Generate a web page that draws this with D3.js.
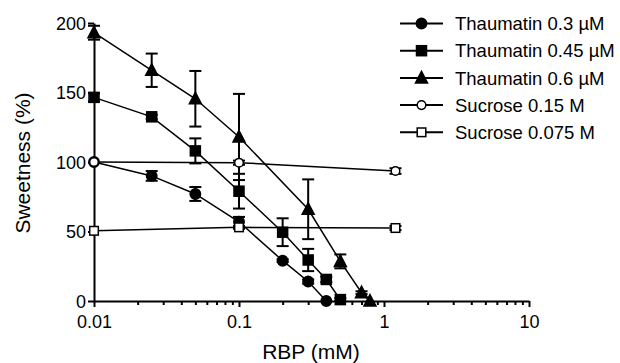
<!DOCTYPE html>
<html>
<head>
<meta charset="utf-8">
<script src="https://cdn.jsdelivr.net/npm/d3@7"></script>
<style>
  body { margin: 0; background: #fff; }
  svg { display: block; font-family: "Liberation Sans", Arial, sans-serif; }
</style>
</head>
<body>
<svg id="chart" width="620" height="363"></svg>
<script>
// values
const seriesNames = ["Thaumatin 0.3 \u00b5M", "Thaumatin 0.45 \u00b5M", "Thaumatin 0.6 \u00b5M", "Sucrose 0.15 M", "Sucrose 0.075 M"];
const seriesShapes = ["circle", "square", "triangle", "circle", "square"];
const seriesFilled = [true, true, true, false, false];

const rbpT03 = [0.01, 0.025, 0.05, 0.1, 0.2, 0.3, 0.4];
const sweetT03 = [100, 90, 77, 57, 29, 14, 0];
const errT03 = [0, 3.5, 5, 3.5, 1, 1.5, 0];

const rbpT045 = [0.01, 0.025, 0.05, 0.1, 0.2, 0.3, 0.4, 0.5];
const sweetT045 = [146.5, 132.5, 108, 79, 49.5, 29.5, 15.5, 1];
const errT045 = [3, 1.5, 9, 12.5, 10, 8, 2, 1];

const rbpT06 = [0.01, 0.025, 0.05, 0.1, 0.3, 0.5, 0.7, 0.8];
const sweetT06 = [193, 166, 145.5, 118, 66, 28.5, 6, 0];
const errT06 = [5, 12, 20, 31, 21.5, 5, 1, 0];

const rbpS015 = [0.01, 0.1, 1.2];
const sweetS015 = [100, 99.5, 93.5];
const errS015 = [0, 1.5, 2];

const rbpS0075 = [0.01, 0.1, 1.2];
const sweetS0075 = [50.5, 53, 52.5];
const errS0075 = [0, 1, 1.5];

const yTicks = [0, 50, 100, 150, 200];
const xMajor = [0.01, 0.1, 1, 10];

const allX = [rbpT03, rbpT045, rbpT06, rbpS015, rbpS0075];
const allY = [sweetT03, sweetT045, sweetT06, sweetS015, sweetS0075];
const allE = [errT03, errT045, errT06, errS015, errS0075];

const series = seriesNames.map((name, i) => ({
  name: name,
  shape: seriesShapes[i],
  filled: seriesFilled[i],
  pts: allX[i].map((x, j) => ({ x: x, y: allY[i][j], e: allE[i][j] }))
}));

const svg = d3.select("#chart");
const x = d3.scaleLog().domain([0.01, 10]).range([94, 529]);
const y = d3.scaleLinear().domain([0, 200]).range([301, 23]);

// minor ticks for the log axis
let xTicks = [];
for (let d = 0.01; d < 10; d *= 10) {
  for (let k = 1; k < 10; k++) xTicks.push(+(d * k).toPrecision(3));
}
xTicks.push(10);
const isMajor = v => xMajor.some(m => Math.abs(m - v) < 1e-9);

const xAxis = svg.append("g")
  .attr("transform", "translate(0," + y(0) + ")")
  .call(d3.axisBottom(x).tickValues(xTicks).tickSize(6).tickSizeOuter(0)
    .tickFormat(v => isMajor(v) ? String(v) : ""));
xAxis.select(".domain").attr("stroke-width", 2);
xAxis.selectAll(".tick line").attr("stroke-width", 2)
  .attr("y2", d => isMajor(d) ? 6 : 4);
xAxis.selectAll(".tick text").attr("font-size", 18).attr("fill", "#000")
  .attr("y", 14).attr("dy", "0.71em");

const yAxis = svg.append("g")
  .attr("transform", "translate(" + x(0.01) + ",0)")
  .call(d3.axisLeft(y).tickValues(yTicks).tickSize(6).tickSizeOuter(0));
yAxis.select(".domain").attr("stroke-width", 2);
yAxis.selectAll(".tick line").attr("stroke-width", 2);
yAxis.selectAll(".tick text").attr("font-size", 18).attr("fill", "#000")
  .attr("x", -8).attr("dy", "0.36em");

svg.append("text")
  .attr("x", 311).attr("y", 359)
  .attr("text-anchor", "middle").attr("font-size", 21)
  .text("RBP (mM)");

svg.append("text")
  .attr("transform", "translate(30,163) rotate(-90)")
  .attr("text-anchor", "middle").attr("font-size", 21)
  .text("Sweetness (%)");

const line = d3.line().x(d => x(d.x)).y(d => y(d.y));

function marker(g, shape, filled) {
  let m;
  if (shape === "circle") {
    m = g.append("circle").attr("r", filled ? 5.2 : 4.3);
  } else if (shape === "square") {
    const h = filled ? 5 : 4.3;
    m = g.append("rect").attr("x", -h).attr("y", -h).attr("width", 2 * h).attr("height", 2 * h);
  } else {
    m = g.append("path").attr("d", "M0,-6.5L6,5L-6,5Z");
  }
  m.attr("fill", filled ? "#000" : "#fff").attr("stroke", "#000").attr("stroke-width", 1.5);
}

// lines
series.forEach(s => {
  svg.append("path").datum(s.pts)
    .attr("d", line).attr("fill", "none")
    .attr("stroke", "#000").attr("stroke-width", 1.5);
});

// error bars
series.forEach(s => {
  s.pts.filter(p => p.e > 0).forEach(p => {
    const cx = x(p.x);
    const g = svg.append("g").attr("stroke", "#000").attr("stroke-width", 2);
    g.append("line").attr("x1", cx).attr("x2", cx).attr("y1", y(p.y - p.e)).attr("y2", y(p.y + p.e));
    [p.y - p.e, p.y + p.e].forEach(v => {
      g.append("line").attr("x1", cx - 6).attr("x2", cx + 6).attr("y1", y(v)).attr("y2", y(v));
    });
  });
});

// markers
series.forEach(s => {
  s.pts.forEach(p => {
    const g = svg.append("g").attr("transform", "translate(" + x(p.x) + "," + y(p.y) + ")");
    marker(g, s.shape, s.filled);
  });
});

// legend
const legend = svg.append("g");
series.forEach((s, i) => {
  const ly = 23.5 + i * 27.2;
  legend.append("line").attr("x1", 400).attr("x2", 443).attr("y1", ly).attr("y2", ly)
    .attr("stroke", "#000").attr("stroke-width", 2);
  const g = legend.append("g").attr("transform", "translate(421.5," + ly + ")");
  marker(g, s.shape, s.filled);
  legend.append("text").attr("x", 455).attr("y", ly).attr("dy", "0.36em")
    .attr("font-size", 18.5).text(s.name);
});
</script>
</body>
</html>
